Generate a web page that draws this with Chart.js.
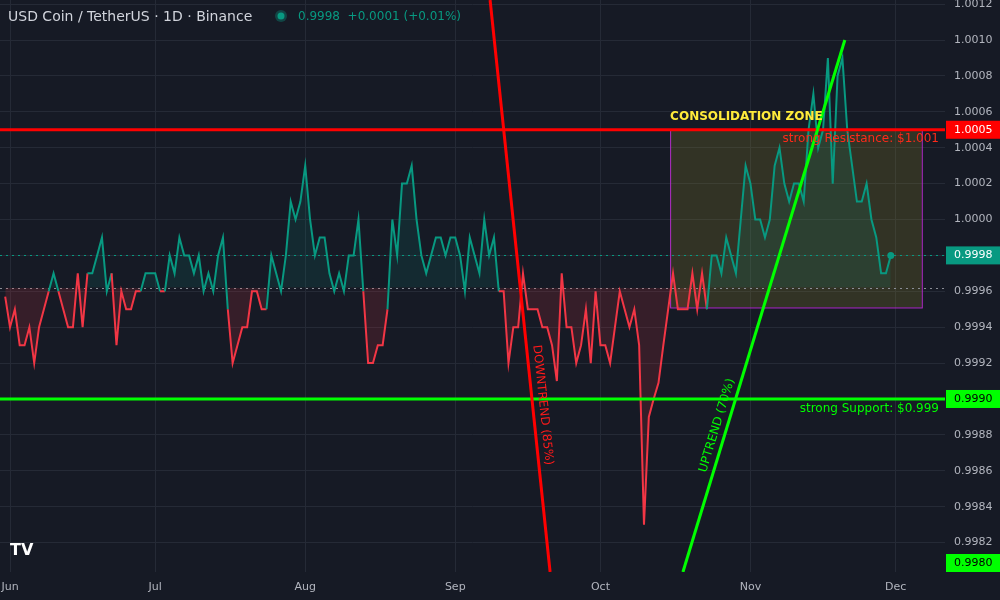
<!DOCTYPE html>
<html><head><meta charset="utf-8">
<script src="https://cdn.jsdelivr.net/npm/chart.js@4/dist/chart.umd.min.js"></script>
<style>html,body{margin:0;padding:0;background:#161a25;}#wrap{width:1000px;height:600px;position:relative;}</style>
</head><body><div id="wrap"><canvas id="c"></canvas></div>
<script>
const startDay = -1; // days relative to Jun 1
const prices = [
0.99957,0.9994,0.9995,0.9993,0.9993,0.9994,0.9992,0.9994,0.9995,0.9996,
0.9997,0.9996,0.9995,0.9994,0.9994,0.9997,0.9994,0.9997,0.9997,0.9998,
0.9999,0.9996,0.9997,0.9993,0.9996,0.9995,0.9995,0.9996,0.9996,0.9997,
0.9997,0.9997,0.9996,0.9996,0.9998,0.9997,0.9999,0.9998,0.9998,0.9997,
0.9998,0.9996,0.9997,0.9996,0.9998,0.9999,0.9995,0.9992,0.9993,0.9994,
0.9994,0.9996,0.9996,0.9995,0.9995,0.9998,0.9997,0.9996,0.9998,1.0001,
1.0000,1.0001,1.0003,1.0000,0.9998,0.9999,0.9999,0.9997,
0.9996,0.9997,0.9996,0.9998,0.9998,1.0000,0.9996,0.9992,0.9992,0.9993,
0.9993,0.9995,1.0000,0.9998,1.0002,1.0002,1.0003,1.0000,0.9998,0.9997,
0.9998,0.9999,0.9999,0.9998,0.9999,0.9999,0.9998,0.9996,0.9999,0.9998,
0.9997,1.0000,0.9998,0.9999,0.9996,0.9996,0.9992,0.9994,0.9994,0.9997,
0.9995,0.9995,0.9995,0.9994,0.9994,0.9993,0.9991,0.9997,0.9994,0.9994,
0.9992,0.9993,0.9995,0.9992,0.9996,0.9993,0.9993,0.9992,0.9994,0.9996,
0.9995,0.9994,0.9995,0.9993,0.9983,0.9989,0.9990,0.99909,
0.9993,0.9995,0.9997,
0.9995,0.9995,0.9995,0.9997,0.9995,0.9997,0.9995,0.9998,0.9998,0.9997,
0.9999,0.9998,0.9997,1.0000,1.0003,1.0002,1.0000,1.0000,0.9999,1.0000,
1.0003,1.0004,1.0002,1.0001,1.0002,1.0002,1.0001,1.0005,1.0007,1.0004,
1.0005,1.0009,1.0002,1.0008,1.0009,1.0005,1.0003,1.0001,1.0001,1.0002,
1.0000,0.9999,0.9997,0.9997,0.9998
];
const monthLabels = ['Jun','Jul','Aug','Sep','Oct','Nov','Dec'];
const monthDays = [0,30,61,92,122,153,183];
const yTicks = [0.9982,0.9984,0.9986,0.9988,0.9990,0.9992,0.9994,0.9996,0.9998,1.0000,1.0002,1.0004,1.0006,1.0008,1.0010,1.0012];
const baseline = 0.99962;
const lastPrice = 0.9998;
const resistance = 1.0005, support = 0.9990;
const downtrend = [[99.2,1.001223],[111.6,0.998036]];
const uptrend = [[139.05,0.998036],[172.5,1.0010]];
const zone = {x0:136.4,x1:188.4,y0:0.99951,y1:1.0005};

const TEAL='#089981', RED='#f23645';
const pts = prices.map((v,i)=>({x:startDay+i,y:v}));

const overlay = {
  id:'overlay',
  beforeDatasetsDraw(ch){
    const {ctx,scales:{x,y},chartArea:a}=ch;
    ctx.save();
    ctx.beginPath();ctx.rect(a.left,a.top,a.right-a.left,a.bottom-a.top);ctx.clip();
    const zx0=x.getPixelForValue(zone.x0),zx1=x.getPixelForValue(zone.x1),zy0=y.getPixelForValue(zone.y1),zy1=y.getPixelForValue(zone.y0);
    ctx.fillStyle='rgba(150,140,40,0.22)';ctx.fillRect(zx0,zy0,zx1-zx0,zy1-zy0);
    ctx.strokeStyle='#b02bc8';ctx.lineWidth=1;ctx.strokeRect(zx0+0.5,zy0+0.5,zx1-zx0,zy1-zy0);
    ctx.setLineDash([2,4]);ctx.lineWidth=1;
    ctx.strokeStyle='#8a8d96';let by=Math.round(y.getPixelForValue(baseline))+0.5;
    ctx.beginPath();ctx.moveTo(a.left,by);ctx.lineTo(a.right,by);ctx.stroke();
    ctx.strokeStyle=TEAL;let ly=Math.round(y.getPixelForValue(lastPrice))+0.5;
    ctx.beginPath();ctx.moveTo(a.left,ly);ctx.lineTo(a.right,ly);ctx.stroke();
    ctx.setLineDash([]);
    ctx.restore();
  },
  afterDatasetsDraw(ch){
    const {ctx,scales:{x,y},chartArea:a}=ch;
    ctx.save();
    ctx.beginPath();ctx.rect(a.left,a.top,a.right-a.left,a.bottom-a.top);ctx.clip();
    const line=(p,c)=>{ctx.strokeStyle=c;ctx.lineWidth=3;ctx.beginPath();ctx.moveTo(x.getPixelForValue(p[0][0]),y.getPixelForValue(p[0][1]));ctx.lineTo(x.getPixelForValue(p[1][0]),y.getPixelForValue(p[1][1]));ctx.stroke();};
    const ry=y.getPixelForValue(resistance), sy=y.getPixelForValue(support);
    ctx.strokeStyle='#ff0000';ctx.lineWidth=3;ctx.beginPath();ctx.moveTo(a.left,ry);ctx.lineTo(a.right,ry);ctx.stroke();
    ctx.strokeStyle='#00ff00';ctx.beginPath();ctx.moveTo(a.left,sy);ctx.lineTo(a.right,sy);ctx.stroke();
    line(downtrend,'#ff0000');line(uptrend,'#00ff00');
    ctx.font='12px "DejaVu Sans"';ctx.textBaseline='middle';ctx.textAlign='right';
    ctx.fillStyle='#ff2a1a';ctx.fillText('strong Resistance: $1.001',a.right-6,ry+9);
    ctx.fillStyle='#00ff00';ctx.fillText('strong Support: $0.999',a.right-6,sy+10);
    ctx.textAlign='left';ctx.font='bold 12px "DejaVu Sans"';ctx.fillStyle='#ffeb3b';
    ctx.fillText('CONSOLIDATION ZONE',x.getPixelForValue(zone.x0),ry-13);
    const rot=(seg,txt,c,t,off)=>{
      const x0=x.getPixelForValue(seg[0][0]),y0=y.getPixelForValue(seg[0][1]),x1=x.getPixelForValue(seg[1][0]),y1=y.getPixelForValue(seg[1][1]);
      const px=x0+(x1-x0)*t,py=y0+(y1-y0)*t;let ang=Math.atan2(y1-y0,x1-x0);
      ctx.save();ctx.translate(px,py);ctx.rotate(ang);ctx.font='12px "DejaVu Sans"';ctx.fillStyle=c;ctx.textAlign='center';ctx.textBaseline='middle';ctx.fillText(txt,0,off);ctx.restore();
    };
    rot(downtrend,'DOWNTREND (85%)','#ff1a1a',0.71,-10);
    rot(uptrend,'UPTREND (70%)','#00ff00',0.27,-10);
    ctx.restore();
    const lpy=y.getPixelForValue(lastPrice);
    ctx.fillStyle=TEAL;ctx.beginPath();ctx.arc(x.getPixelForValue(pts[pts.length-1].x),lpy,3.5,0,7);ctx.fill();
    ctx.font='11px "DejaVu Sans"';ctx.fillStyle='#b2b5be';ctx.textAlign='left';ctx.textBaseline='middle';
    yTicks.forEach(v=>{const p=y.getPixelForValue(v);if(p>2&&p<a.bottom-8)ctx.fillText(v.toFixed(4),a.right+9,p);});
    ctx.textAlign='center';
    monthLabels.forEach((m,i)=>ctx.fillText(m,x.getPixelForValue(monthDays[i]),a.bottom+15));
    const badge=(v,bg,fg,py)=>{const p=py!==undefined?py:y.getPixelForValue(v);ctx.fillStyle=bg;ctx.fillRect(a.right+1,p-9,54,18);ctx.fillStyle=fg;ctx.textAlign='left';ctx.fillText(v.toFixed(4),a.right+9,p);};
    badge(resistance,'#ff0000','#ffffff');
    badge(lastPrice,TEAL,'#ffffff');
    badge(support,'#00ff00','#000000');
    badge(0.9980,'#00ff00','#000000',a.bottom-9);
    ctx.textAlign='left';ctx.font='14px "DejaVu Sans"';ctx.fillStyle='#d1d4dc';
    ctx.fillText('USD Coin / TetherUS · 1D · Binance',8,17);
    ctx.fillStyle='rgba(8,153,129,0.35)';ctx.beginPath();ctx.arc(281,16,6,0,7);ctx.fill();
    ctx.fillStyle=TEAL;ctx.beginPath();ctx.arc(281,16,3.5,0,7);ctx.fill();
    ctx.font='12px "DejaVu Sans"';ctx.fillText('0.9998  +0.0001 (+0.01%)',298,17);
    ctx.font='bold 16px "DejaVu Sans"';ctx.fillStyle='#ffffff';ctx.fillText('TV',10,551);
  }
};

new Chart(document.getElementById('c'),{
  type:'line',
  data:{datasets:[{
    data:pts,borderWidth:2,pointRadius:0,tension:0,
    borderColor:TEAL,
    segment:{borderColor:c=>(c.p0.parsed.y+c.p1.parsed.y)/2>=baseline?TEAL:RED},
    fill:{value:baseline,above:'rgba(8,153,129,0.13)',below:'rgba(242,54,69,0.15)'}
  }]},
  options:{
    responsive:true,maintainAspectRatio:false,animation:false,
    layout:{padding:0},
    plugins:{legend:{display:false},tooltip:{enabled:false}},
    scales:{
      x:{type:'linear',min:-2.07,max:193.2,
        afterBuildTicks:s=>{s.ticks=monthDays.map(v=>({value:v}));},
        afterFit:s=>{s.height=28;},
        ticks:{display:false},grid:{color:'#252a36',drawTicks:false},border:{display:false}},
      y:{position:'right',min:0.998036,max:1.001223,
        afterBuildTicks:s=>{s.ticks=yTicks.map(v=>({value:v}));},
        afterFit:s=>{s.width=55;},
        ticks:{display:false},grid:{color:'#252a36',drawTicks:false},border:{display:false}}
    }
  },
  plugins:[overlay]
});
</script></body></html>
